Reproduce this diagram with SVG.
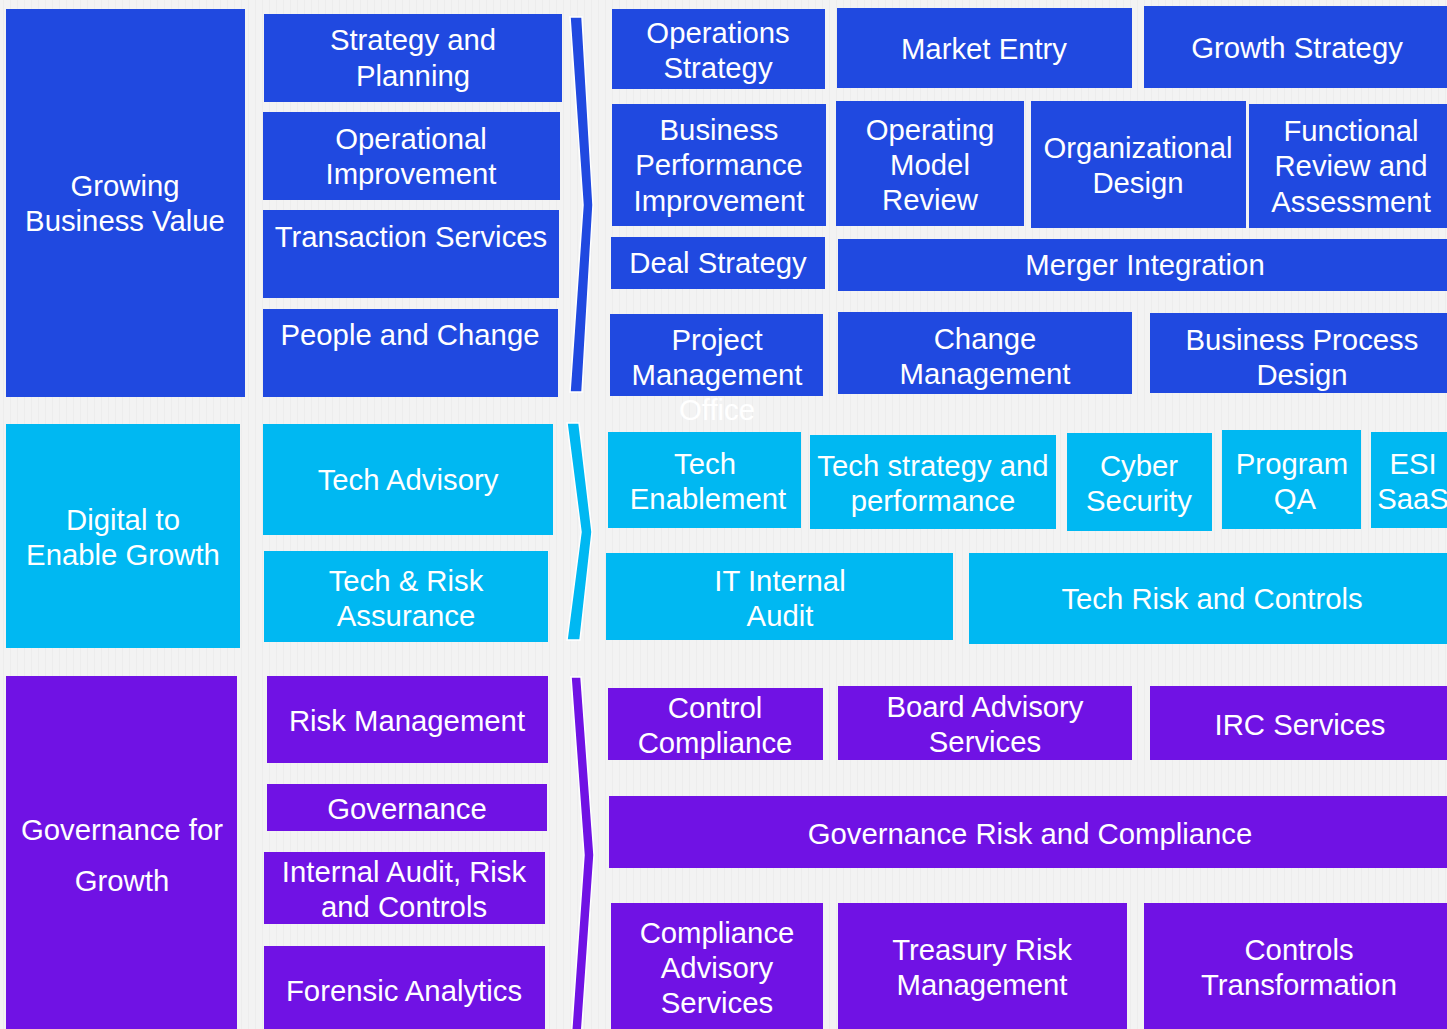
<svg xmlns="http://www.w3.org/2000/svg" width="1447" height="1029" viewBox="0 0 1447 1029">
<defs>
<style>
.b{fill:#2049E0}
.c{fill:#00B8F2}
.p{fill:#7012E4}
text{font-family:"Liberation Sans",Arial,sans-serif;font-size:29.3px;fill:#ffffff;text-anchor:middle}
.chev{stroke:#ffffff;stroke-width:1.5;stroke-linejoin:miter}
</style>
<pattern id="tex" width="7" height="7" patternUnits="userSpaceOnUse">
<rect width="7" height="7" fill="#f3f3f3"/>
<rect x="3" width="1" height="7" fill="#ededed"/>
</pattern>
</defs>
<rect width="1447" height="1029" fill="url(#tex)"/>

<g id="connectors">
<path class="chev b" d="M570,17 L582,17 L593,205 L582,392 L570,392 L583,205 Z"/>
<path class="chev c" d="M567,423 L579,423 L592,532 L580,640 L567,640 L581,532 Z"/>
<path class="chev p" d="M571,677 L581,677 L594,855 L581,1040 L571,1040 L584,855 Z"/>
</g>

<!-- Blue group -->
<g id="growing-business-value"><rect class="b" x="6" y="9" width="239" height="388"/><text x="125" y="196">Growing</text><text x="125" y="231">Business Value</text></g>
<g id="strategy-planning"><rect class="b" x="264" y="14" width="298" height="88"/><text x="413" y="50">Strategy and</text><text x="413" y="86">Planning</text></g>
<g id="operational-improvement"><rect class="b" x="263" y="112" width="297" height="88"/><text x="411" y="149">Operational</text><text x="411" y="184">Improvement</text></g>
<g id="transaction-services"><rect class="b" x="263" y="210" width="296" height="88"/><text x="411" y="247">Transaction Services</text></g>
<g id="people-change"><rect class="b" x="263" y="309" width="295" height="88"/><text x="410" y="345">People and Change</text></g>

<g id="operations-strategy"><rect class="b" x="612" y="9" width="213" height="80"/><text x="718" y="43">Operations</text><text x="718" y="78">Strategy</text></g>
<g id="market-entry"><rect class="b" x="837" y="8" width="295" height="80"/><text x="984" y="59">Market Entry</text></g>
<g id="growth-strategy"><rect class="b" x="1144" y="6" width="303" height="82"/><text x="1297" y="58">Growth Strategy</text></g>
<g id="business-performance-improvement"><rect class="b" x="612" y="104" width="214" height="122"/><text x="719" y="140">Business</text><text x="719" y="175">Performance</text><text x="719" y="211">Improvement</text></g>
<g id="operating-model-review"><rect class="b" x="836" y="101" width="188" height="125"/><text x="930" y="140">Operating</text><text x="930" y="175">Model</text><text x="930" y="210">Review</text></g>
<g id="organizational-design"><rect class="b" x="1031" y="101" width="215" height="127"/><text x="1138" y="158">Organizational</text><text x="1138" y="193">Design</text></g>
<g id="functional-review"><rect class="b" x="1249" y="104" width="198" height="124"/><text x="1351" y="141">Functional</text><text x="1351" y="176">Review and</text><text x="1351" y="212">Assessment</text></g>
<g id="deal-strategy"><rect class="b" x="611" y="237" width="214" height="52"/><text x="718" y="273">Deal Strategy</text></g>
<g id="merger-integration"><rect class="b" x="838" y="239" width="609" height="52"/><text x="1145" y="275">Merger Integration</text></g>
<g id="project-management-office"><rect class="b" x="610" y="314" width="213" height="82"/><text x="717" y="350">Project</text><text x="717" y="385">Management</text><text x="717" y="420">Office</text></g>
<g id="change-management"><rect class="b" x="838" y="312" width="294" height="82"/><text x="985" y="349">Change</text><text x="985" y="384">Management</text></g>
<g id="business-process-design"><rect class="b" x="1150" y="313" width="297" height="80"/><text x="1302" y="350">Business Process</text><text x="1302" y="385">Design</text></g>

<!-- Cyan group -->
<g id="digital-enable-growth"><rect class="c" x="6" y="424" width="234" height="224"/><text x="123" y="530">Digital to</text><text x="123" y="565">Enable Growth</text></g>
<g id="tech-advisory"><rect class="c" x="263" y="424" width="290" height="111"/><text x="408" y="490">Tech Advisory</text></g>
<g id="tech-risk-assurance"><rect class="c" x="264" y="551" width="284" height="91"/><text x="406" y="591">Tech &amp; Risk</text><text x="406" y="626">Assurance</text></g>
<g id="tech-enablement"><rect class="c" x="608" y="432" width="193" height="96"/><text x="705" y="474">Tech</text><text x="708" y="509">Enablement</text></g>
<g id="tech-strategy-performance"><rect class="c" x="810" y="435" width="246" height="94"/><text x="933" y="476">Tech strategy and</text><text x="933" y="511">performance</text></g>
<g id="cyber-security"><rect class="c" x="1067" y="433" width="145" height="98"/><text x="1139" y="476">Cyber</text><text x="1139" y="511">Security</text></g>
<g id="program-qa"><rect class="c" x="1222" y="430" width="139" height="99"/><text x="1292" y="474">Program</text><text x="1295" y="509">QA</text></g>
<g id="esi-saas"><rect class="c" x="1371" y="432" width="90" height="96"/><text x="1413" y="474">ESI</text><text x="1413" y="509">SaaS</text></g>
<g id="it-internal-audit"><rect class="c" x="606" y="553" width="347" height="87"/><text x="780" y="591">IT Internal</text><text x="780" y="626">Audit</text></g>
<g id="tech-risk-controls"><rect class="c" x="969" y="553" width="478" height="91"/><text x="1212" y="609">Tech Risk and Controls</text></g>

<!-- Purple group -->
<g id="governance-for-growth"><rect class="p" x="6" y="676" width="231" height="353"/><text x="122" y="840">Governance for</text><text x="122" y="891">Growth</text></g>
<g id="risk-management"><rect class="p" x="267" y="676" width="281" height="87"/><text x="407" y="731">Risk Management</text></g>
<g id="governance"><rect class="p" x="267" y="784" width="280" height="47"/><text x="407" y="819">Governance</text></g>
<g id="internal-audit-risk-controls"><rect class="p" x="264" y="852" width="281" height="72"/><text x="404" y="882">Internal Audit, Risk</text><text x="404" y="917">and Controls</text></g>
<g id="forensic-analytics"><rect class="p" x="264" y="946" width="281" height="83"/><text x="404" y="1001">Forensic Analytics</text></g>
<g id="control-compliance"><rect class="p" x="608" y="688" width="215" height="72"/><text x="715" y="718">Control</text><text x="715" y="753">Compliance</text></g>
<g id="board-advisory-services"><rect class="p" x="838" y="686" width="294" height="74"/><text x="985" y="717">Board Advisory</text><text x="985" y="752">Services</text></g>
<g id="irc-services"><rect class="p" x="1150" y="686" width="297" height="74"/><text x="1300" y="735">IRC Services</text></g>
<g id="governance-risk-compliance"><rect class="p" x="609" y="796" width="838" height="72"/><text x="1030" y="844">Governance Risk and Compliance</text></g>
<g id="compliance-advisory-services"><rect class="p" x="611" y="903" width="212" height="126"/><text x="717" y="943">Compliance</text><text x="717" y="978">Advisory</text><text x="717" y="1013">Services</text></g>
<g id="treasury-risk-management"><rect class="p" x="838" y="903" width="289" height="126"/><text x="982" y="960">Treasury Risk</text><text x="982" y="995">Management</text></g>
<g id="controls-transformation"><rect class="p" x="1144" y="903" width="303" height="126"/><text x="1299" y="960">Controls</text><text x="1299" y="995">Transformation</text></g>
</svg>
